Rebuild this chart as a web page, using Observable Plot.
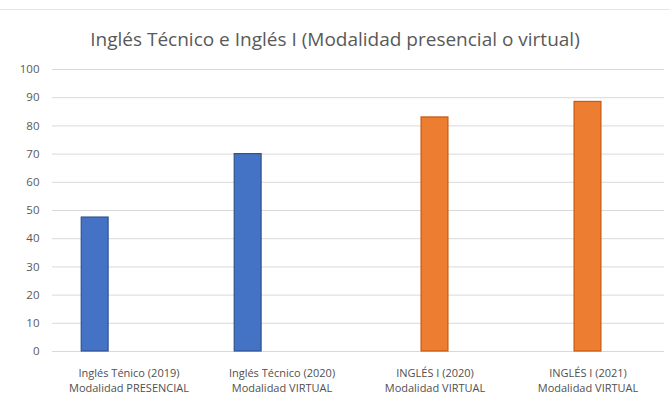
<!DOCTYPE html>
<html>
<head>
<meta charset="utf-8">
<script src="https://cdn.jsdelivr.net/npm/d3@7"></script>
<script src="https://cdn.jsdelivr.net/npm/@observablehq/plot@0.6"></script>
<style>
  html, body { margin: 0; padding: 0; background: #fff; }
  #wrap { width: 670px; height: 404px; position: relative; overflow: hidden; }
  #title { box-sizing: border-box; text-align: center;
           font-family: "Open Sans", "Noto Sans", sans-serif; font-size: 19px; color: #595959;
           border-top: 1px solid #e6e6e6; margin-top: 9px; height: 47px; padding-top: 18px; line-height: 22px; }
  svg { display: block; }
</style>
</head>
<body>
<div id="wrap">
  <div id="title">Inglés Técnico e Inglés I (Modalidad presencial o virtual)</div>
  <div id="chart"></div>
</div>
<script>
const categories = [
  "Inglés Ténico (2019)\nModalidad PRESENCIAL",
  "Inglés Técnico (2020)\nModalidad VIRTUAL",
  "INGLÉS I (2020)\nModalidad VIRTUAL",
  "INGLÉS I (2021)\nModalidad VIRTUAL"
];
const series = ["Inglés Técnico", "Inglés I", "Otro"];
const barSeries = ["Inglés Técnico", "Inglés Técnico", "Inglés I", "Inglés I"];
const values = [47.5, 70, 83, 88.5];
const yTicks = [0, 10, 20, 30, 40, 50, 60, 70, 80, 90, 100];
const fills = ["#4472C4", "#ED7D31", "#A5A5A5"];
const strokes = ["#2F528F", "#C55A11", "#7F7F7F"];

const data = categories.map((c, i) => ({cat: c, series: barSeries[i], value: values[i]}));

const chart = Plot.plot({
  width: 670,
  height: 348,
  marginTop: 13,
  marginBottom: 53,
  marginLeft: 50,
  marginRight: 5,
  style: {fontFamily: "'Open Sans', 'Noto Sans', sans-serif", color: "#595959", background: "#fff"},
  fx: {domain: categories, padding: 0, label: null},
  x: {domain: series, paddingInner: 7/34, paddingOuter: 0.864, round: false, axis: null},
  y: {domain: [0, 100], label: null},
  color: {domain: series, range: fills},
  marks: [
    Plot.ruleY(yTicks, {stroke: "#d9d9d9", strokeWidth: 1}),
    Plot.axisY(yTicks, {tickSize: 0, tickPadding: 13, fontSize: 11.5, label: null, fill: "#595959"}),
    Plot.axisFx({anchor: "bottom", tickSize: 0, tickPadding: 14, fontSize: 11, lineHeight: 1.42, label: null, fill: "#505050"}),
    Plot.barY(data, {
      fx: "cat", x: "series", y: "value",
      fill: "series",
      stroke: d => strokes[series.indexOf(d.series)],
      strokeWidth: 1.2
    })
  ]
});
document.getElementById("chart").appendChild(chart);
</script>
</body>
</html>
